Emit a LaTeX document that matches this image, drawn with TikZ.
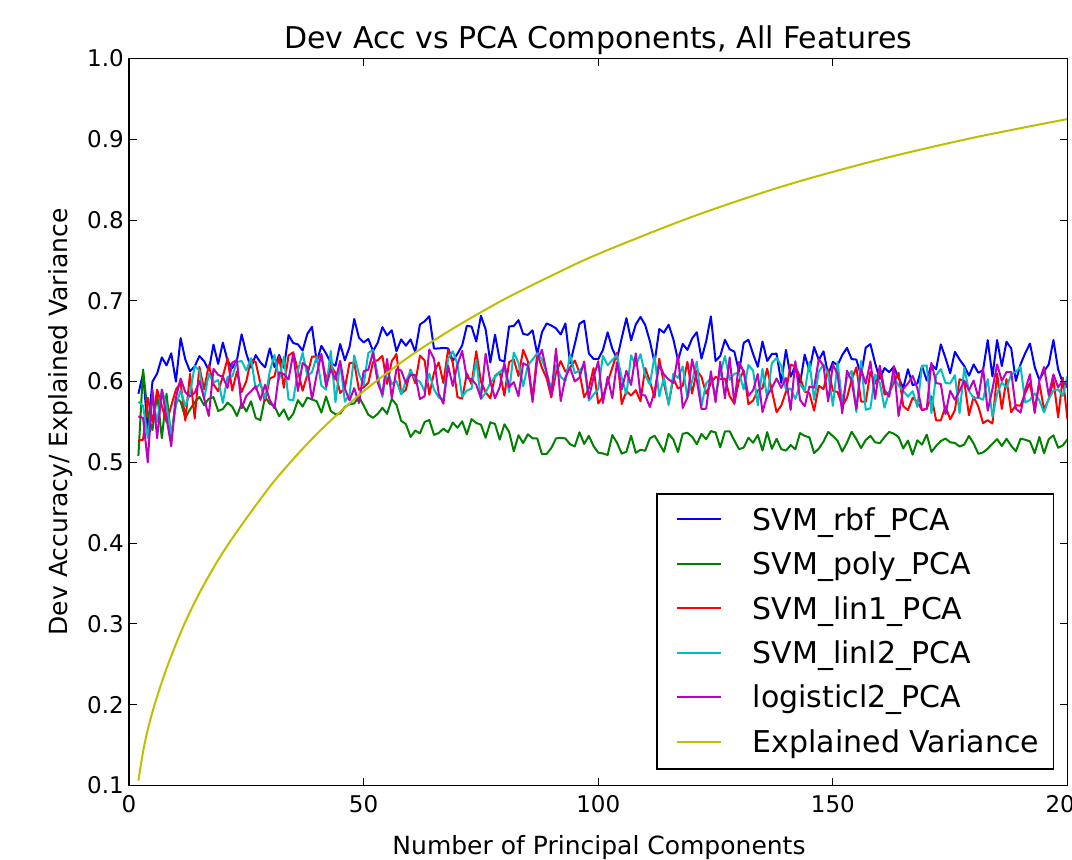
\documentclass[tikz,border=0pt]{standalone}
\usepackage{fontspec}
\setmainfont{DejaVu Sans}
\usetikzlibrary{positioning}

% matplotlib's classic line colours
\definecolor{mplb}{rgb}{0,0,1}
\definecolor{mplg}{rgb}{0,0.5,0}
\definecolor{mplr}{rgb}{1,0,0}
\definecolor{mplc}{rgb}{0,0.75,0.75}
\definecolor{mplm}{rgb}{0.75,0,0.75}
\definecolor{mply}{rgb}{0.75,0.75,0}

\tikzset{
    dataline/.style={line width=2pt, line join=round},
    spine/.style={line width=1.8pt},
    tickmark/.style={line width=1pt},
    ticklabel/.style={inner sep=0pt, font=\fontsize{23}{27}\selectfont},
    axislabel/.style={inner sep=0pt, font=\fontsize{25}{30}\selectfont},
    titlelabel/.style={inner sep=0pt, font=\fontsize{30}{36}\selectfont},
    legendbox/.style={draw, line width=1.6pt, fill=white, inner sep=0pt},
    legendtext/.style={inner sep=0pt, font=\fontsize{30}{36}\selectfont}
}

\begin{document}
\begin{tikzpicture}[x=1pt, y=1pt]
        \useasboundingbox (0,0) rectangle (1072,860);

        % axes: x from 0 to 200, y from 0.1 to 1.0
        \begin{scope}[shift={(129pt,-6.28pt)}, x=4.6925pt, y=807.8pt]
            \begin{scope}
                \clip (0,0.1) rectangle (200,1.0);

                % dev accuracy of the five models
                \pgfmathsetseed{4}
                \draw[dataline, mplb] plot coordinates {(2,0.585) (3,0.61) (4,0.54) (5,0.60) (6,0.61)
                    (7,0.63) (8,0.62) (9,0.635) (10,0.60)}
                    -- plot[domain=11:200, samples=190] (\x, {0.605+0.047*(1-exp(-\x/15))-0.03*(\x>124)+0.03*rand});

                \pgfmathsetseed{21}
                \draw[dataline, mplg] plot coordinates {(2,0.508) (3,0.615) (4,0.56) (5,0.54) (6,0.585)
                    (7,0.53) (8,0.585) (9,0.53) (10,0.58) (11,0.575)}
                    -- plot[domain=12:200, samples=189] (\x, {0.567-0.025*(\x>57)-0.018*(\x>80)+0.015*rand});

                \pgfmathsetseed{33}
                \draw[dataline, mplr] plot coordinates {(2,0.527) (3,0.528) (4,0.58) (5,0.55) (6,0.59)
                    (7,0.57) (8,0.55) (9,0.57) (10,0.59)}
                    -- plot[domain=11:200, samples=190] (\x, {0.575+0.033*(1-exp(-(\x-10)/10))-0.0003*(\x-90)*(\x>90)+0.032*rand});

                \pgfmathsetseed{7}
                \draw[dataline, mplc] plot coordinates {(2,0.575) (3,0.57) (4,0.53) (5,0.58) (6,0.55)
                    (7,0.59) (8,0.57) (9,0.535) (10,0.57)}
                    -- plot[domain=11:200, samples=190] (\x, {0.58+0.028*(1-exp(-(\x-10)/12))-0.00022*(\x-90)*(\x>90)+0.032*rand});

                \pgfmathsetseed{58}
                \draw[dataline, mplm] plot coordinates {(2,0.557) (3,0.555) (4,0.50) (5,0.59) (6,0.53)
                    (7,0.59) (8,0.555) (9,0.52) (10,0.58)}
                    -- plot[domain=11:200, samples=190] (\x, {0.578+0.028*(1-exp(-(\x-10)/12))-0.0002*(\x-90)*(\x>90)+0.035*rand});

                % explained variance
                \draw[dataline, mply] plot[smooth] coordinates {(2,0.106) (3,0.142) (4,0.169) (5.4,0.199)
                    (8,0.245) (11.8,0.300) (16,0.349) (21.3,0.400) (30.7,0.475) (40,0.535) (50,0.588)
                    (60,0.632) (70,0.669) (80,0.702) (90,0.731) (100,0.758) (120,0.804) (140,0.843)
                    (160,0.875) (180,0.902) (200,0.925)};
            \end{scope}

            \draw[spine] (0,0.1) rectangle (200,1.0);

            \foreach \t in {0,50,...,200} {
                \draw[tickmark] (\t,0.1) -- ++(0,7.5pt);
                \draw[tickmark] (\t,1.0) -- ++(0,-7.5pt);
                \node[ticklabel, anchor=base, yshift=-27.5pt] (xt\t) at (\t,0.1) {\t};
            }
            \foreach \v [count=\i] in {0.1,0.2,0.3,0.4,0.5,0.6,0.7,0.8,0.9,1.0} {
                \draw[tickmark] (0,\v) -- ++(7.5pt,0);
                \draw[tickmark] (200,\v) -- ++(-7.5pt,0);
                \node[ticklabel, anchor=east, xshift=-5pt] (yt\i) at (0,\v) {\v};
            }
        \end{scope}

        \node[titlelabel, anchor=base] (title) at (598.25,811) {Dev Acc vs PCA Components, All Features};
        \node[axislabel, anchor=base] (xlabel) at (599,5) {Number of Principal Components};
        \node[axislabel, anchor=base, rotate=90] (ylabel) at (67,438) {Dev Accuracy/ Explained Variance};

        % legend
        \node[legendbox, minimum width=396.7pt, minimum height=275pt, anchor=south west] (legend) at (656,90) {};
        \foreach \col/\lab [count=\k] in {mplb/SVM\_rbf\_PCA, mplg/SVM\_poly\_PCA, mplr/SVM\_lin1\_PCA,
                mplc/SVM\_linl2\_PCA, mplm/logisticl2\_PCA, mply/Explained Variance} {
            \coordinate (ls\k) at (676.7, {340.7-44.45*(\k-1)});
            \coordinate (le\k) at (720.7, {340.7-44.45*(\k-1)});
            \draw[dataline, \col] (ls\k) -- (le\k);
            \node[legendtext, anchor=base west, yshift=-10.9pt] (lt\k) at (752.5, {340.7-44.45*(\k-1)}) {\lab};
        }
\end{tikzpicture}
\end{document}
